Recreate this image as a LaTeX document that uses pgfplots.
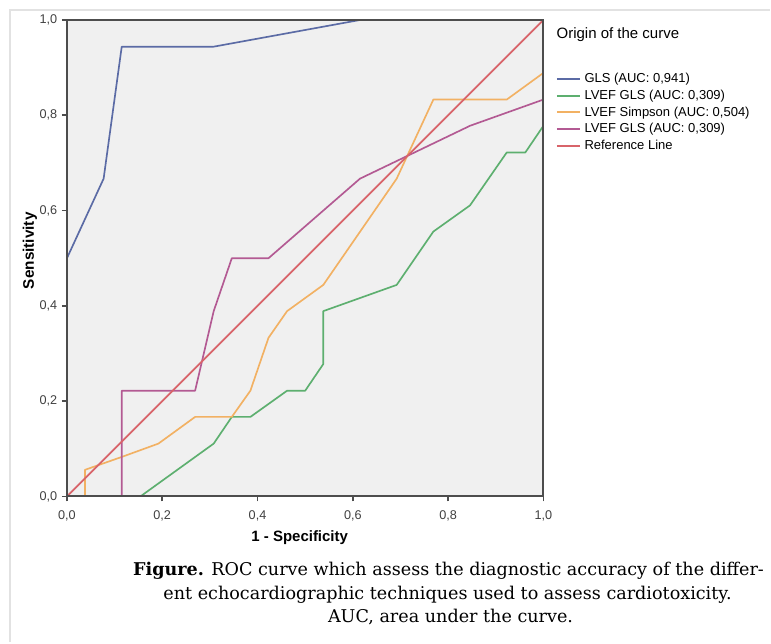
\documentclass[border=0pt]{standalone}
\usepackage{fontspec}
\setmainfont{Liberation Sans}
\newfontfamily\capfont{DejaVu Serif}
\usepackage{pgfplots}
\pgfplotsset{compat=1.18}

\definecolor{glsblue}{HTML}{5B6BA5}
\definecolor{lvefgreen}{HTML}{5DAF6F}
\definecolor{simpson}{HTML}{F2B163}
\definecolor{lvefpurple}{HTML}{B35A93}
\definecolor{refred}{HTML}{D8646A}
\definecolor{bggrey}{HTML}{F0F0F0}
\definecolor{axisgrey}{HTML}{4D4D4D}
\definecolor{framegrey}{HTML}{E2E2E2}

\begin{document}
\begin{tikzpicture}
% page size 771x643 px, 1px = 0.75pt
\path (0pt,0pt) rectangle (578.25pt,-482.25pt);
\draw[framegrey, line width=1.2pt] (7.5pt,-482.25pt) -- (7.5pt,-7.5pt) -- (578.25pt,-7.5pt);

\begin{axis}[
    at={(50.25pt,-372.75pt)}, anchor=south west,
    scale only axis,
    width=357.75pt, height=357.75pt,
    xmin=0, xmax=1, ymin=0, ymax=1,
    xtick={0,0.2,0.4,0.6,0.8,1},
    ytick={0,0.2,0.4,0.6,0.8,1},
    xtick pos=left, ytick pos=left,
    tick align=outside,
    major tick length=3.75pt,
    axis line style={draw=axisgrey, line width=1.5pt},
    tick style={draw=axisgrey, line width=1.2pt},
    axis background/.style={fill=bggrey},
    axis on top,
    ticklabel style={font=\fontsize{9.5}{11}\selectfont, text=black!75},
    xticklabel style={yshift=-3.5pt},
    /pgf/number format/use comma,
    /pgf/number format/fixed,
    /pgf/number format/fixed zerofill,
    /pgf/number format/precision=1,
    /pgf/number format/assume math mode=true,
    legend style={at={(rel axis cs:1.017,0.9)}, anchor=north west,
        draw=none, fill=none, font=\fontsize{9.75}{11}\selectfont,
        row sep=0pt,
        /tikz/every odd column/.append style={column sep=1pt}},
    legend cell align=left,
    legend image post style={line width=1.5pt},
    every axis plot/.append style={line width=1.25pt, line join=round},
]
\addplot[color=glsblue] coordinates {
    (0,0) (0,0.5) (0.077,0.667) (0.115,0.944) (0.308,0.944) (0.615,1) (1,1)
};
\addlegendentry{GLS (AUC: 0,941)}
\addplot[color=lvefgreen] coordinates {
    (0,0) (0.154,0) (0.308,0.111) (0.346,0.167) (0.385,0.167) (0.462,0.222)
    (0.5,0.222) (0.538,0.278) (0.538,0.389) (0.692,0.444) (0.769,0.556)
    (0.846,0.611) (0.923,0.722) (0.962,0.722) (1,0.778) (1,1)
};
\addlegendentry{LVEF GLS (AUC: 0,309)}
\addplot[color=simpson] coordinates {
    (0,0) (0.038,0) (0.038,0.056) (0.115,0.083) (0.192,0.111) (0.269,0.167)
    (0.346,0.167) (0.385,0.222) (0.423,0.333) (0.462,0.389) (0.538,0.444)
    (0.692,0.667) (0.769,0.833) (0.923,0.833) (1,0.889) (1,1)
};
\addlegendentry{LVEF Simpson (AUC: 0,504)}
\addplot[color=lvefpurple] coordinates {
    (0,0) (0.115,0) (0.115,0.222) (0.269,0.222) (0.308,0.389) (0.346,0.5)
    (0.423,0.5) (0.615,0.667) (0.846,0.778) (1,0.833) (1,1)
};
\addlegendentry{LVEF GLS (AUC: 0,309)}
\addplot[color=refred] coordinates {(0,0) (1,1)};
\addlegendentry{Reference Line}
\end{axis}

\begin{scope}[x=0.75pt, y=-0.75pt]
\node[anchor=west, font=\fontsize{11.25}{13}\selectfont, inner sep=0pt] at (557,35) {Origin of the curve};
\node[font=\bfseries\fontsize{11.5}{13}\selectfont, rotate=90, inner sep=0pt] at (30,251) {Sensitivity};
\node[font=\bfseries\fontsize{11.25}{13}\selectfont, inner sep=0pt] at (300,538) {1 - Specificity};
\node[anchor=base, inner sep=0pt, font=\capfont\fontsize{13.2}{16}\selectfont] at (449,576)
    {\textbf{Figure.} ROC curve which assess the diagnostic accuracy of the differ-};
\node[anchor=base, inner sep=0pt, font=\capfont\fontsize{13.2}{16}\selectfont] at (448,600)
    {ent echocardiographic techniques used to assess cardiotoxicity.};
\node[anchor=base, inner sep=0pt, font=\capfont\fontsize{13.2}{16}\selectfont] at (451,623)
    {AUC, area under the curve.};
\end{scope}
\end{tikzpicture}
\end{document}
